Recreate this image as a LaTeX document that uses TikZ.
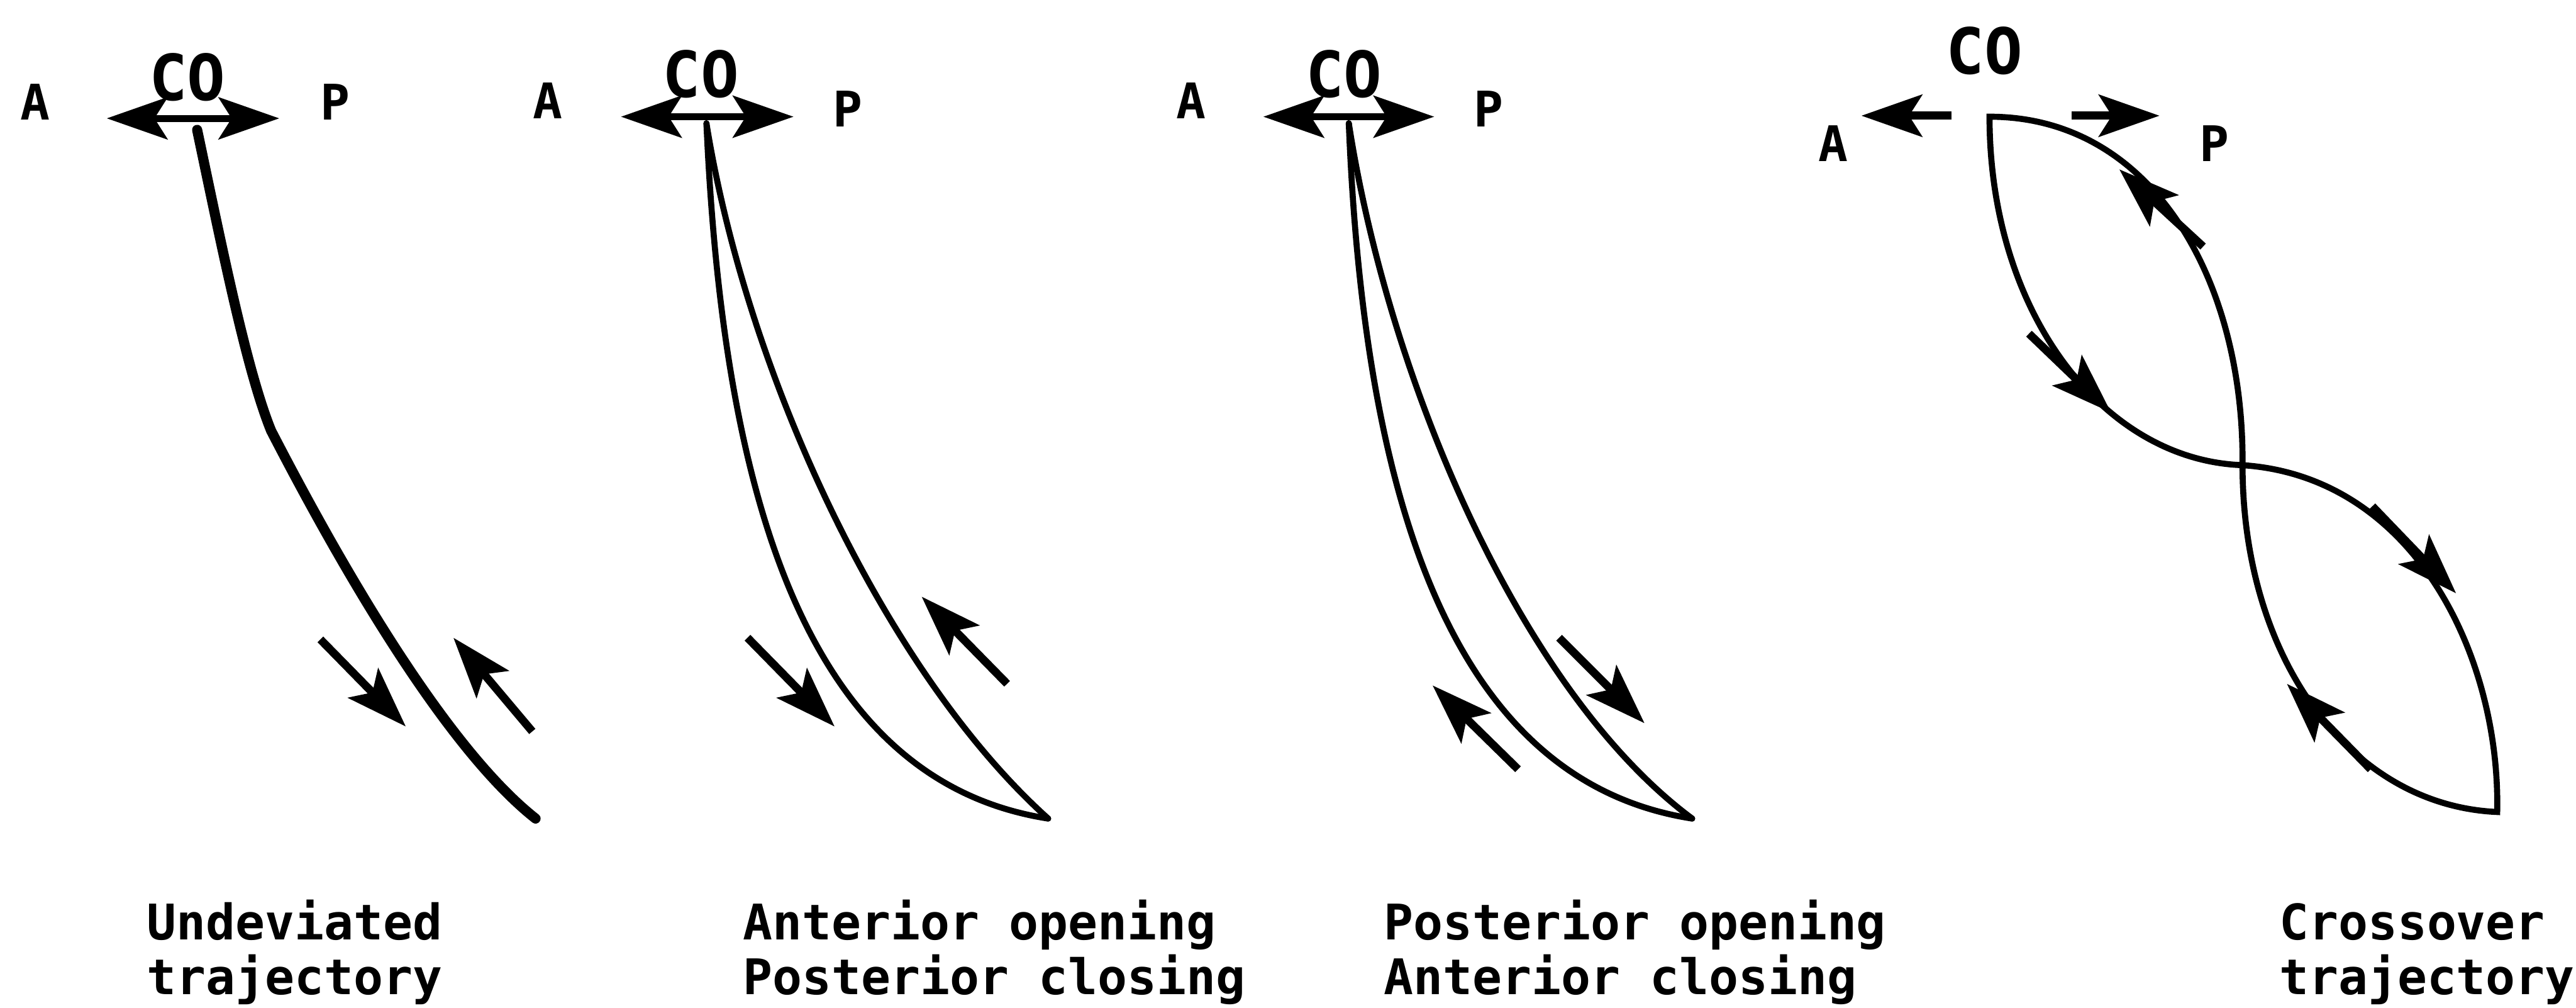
\documentclass[tikz,border=0pt]{standalone}
\usepackage{fontspec}
\setmonofont{DejaVu Sans Mono}
\usepackage{tikz}
\usetikzlibrary{arrows.meta}
\definecolor{jawink}{HTML}{000000}
\tikzset{
  lab/.style={font=\ttfamily\bfseries\fontsize{17}{19}\selectfont, inner sep=0pt, anchor=base, text=jawink},
  colab/.style={lab, font=\ttfamily\bfseries\fontsize{22}{24}\selectfont},
  captxt/.style={lab, anchor=base west, align=left},
  fine/.style={draw=jawink, line width=2.1pt, line cap=round},
  heavy/.style={draw=jawink, line width=3.5pt, line cap=round},
  arr/.style={-{Stealth[length=21pt, width=14.5pt, inset=4.5pt]}, draw=jawink, line width=2.8pt},
  arr2/.style={{Stealth[length=21pt, width=14.5pt, inset=4.5pt]}-{Stealth[length=21pt, width=14.5pt, inset=4.5pt]}, draw=jawink, line width=2.4pt},
}
\begin{document}
\begin{tikzpicture}[x=0.02cm, y=-0.02cm]
  \path[fill=white, use as bounding box] (0,0) rectangle (1568,613);
  % undeviated
  \node[lab] (a1) at (21.5,73) {A};
  \node[lab] (p1) at (204,73) {P};
  \node[colab] (co1) at (114,61) {CO};
  \coordinate (l1) at (65,72);
  \coordinate (r1) at (170,72);
  \draw[arr2] (l1) -- (r1);
  \coordinate (o1) at (120,79);
  \coordinate (k1) at (165,262);
  \coordinate (e1) at (326,498);
  \draw[heavy] (o1) .. controls (135,150) and (150,225) .. (k1) .. controls (195,320) and (265,450) .. (e1);
  \draw[arr] (195,389) -- (247,442);
  \draw[arr] (324,445) -- (276,388);
  % anterior opening
  \node[lab] (a2) at (333.5,72) {A};
  \node[lab] (p2) at (516,77) {P};
  \node[colab] (co2) at (426.5,59) {CO};
  \coordinate (l2) at (378,71);
  \coordinate (r2) at (483,71);
  \draw[arr2] (l2) -- (r2);
  \coordinate (o2) at (430,75);
  \coordinate (e2) at (638,498);
  \draw[fine] (o2) .. controls (440,300) and (490,475) .. (e2);
  \draw[fine] (o2) .. controls (455,230) and (540,410) .. (e2);
  \draw[arr] (455,388) -- (508,442);
  \draw[arr] (613,416) -- (561,363);
  % posterior opening
  \node[lab] (a3) at (725,72) {A};
  \node[lab] (p3) at (906,77) {P};
  \node[colab] (co3) at (818,59) {CO};
  \coordinate (l3) at (769,71);
  \coordinate (r3) at (873,71);
  \draw[arr2] (l3) -- (r3);
  \coordinate (o3) at (821,75);
  \coordinate (e3) at (1030,498);
  \draw[fine] (o3) .. controls (830,300) and (882,475) .. (e3);
  \draw[fine] (o3) .. controls (845,230) and (925,420) .. (e3);
  \draw[arr] (949,388) -- (1001,440);
  \draw[arr] (924,468) -- (872,417);
  % crossover
  \node[lab] (a4) at (1116,98) {A};
  \node[lab] (p4) at (1348,98) {P};
  \node[colab] (co4) at (1208,45) {CO};
  \coordinate (la4) at (1188,70.4);
  \coordinate (ra4) at (1261,70.4);
  \draw[arr] (la4) -- (1133,70.4);
  \draw[arr] (ra4) -- (1314.5,70.4);
  \coordinate (s4) at (1211,71);
  \coordinate (x4) at (1365,283);
  \coordinate (b4) at (1520,494);
  \draw[fine, line join=miter] (s4) .. controls (1211,190) and (1280,280) .. (x4) .. controls (1470,290) and (1522,400) .. (b4) .. controls (1430,490) and (1365,400) .. (x4) .. controls (1366,170) and (1310,71) .. cycle;
  \draw[arr] (1235,203) -- (1285,251);
  \draw[arr] (1341,150) -- (1290,103);
  \draw[arr] (1444,308) -- (1495,361);
  \draw[arr] (1443,468) -- (1392,416);
  % captions
  \node[captxt] (t1) at (89,605) {Undeviated\\trajectory};
  \node[captxt] (t2) at (452,605) {Anterior opening\\Posterior closing};
  \node[captxt] (t3) at (842,605) {Posterior opening\\Anterior closing};
  \node[captxt] (t4) at (1387,605) {Crossover\\trajectory};
\end{tikzpicture}
\end{document}
